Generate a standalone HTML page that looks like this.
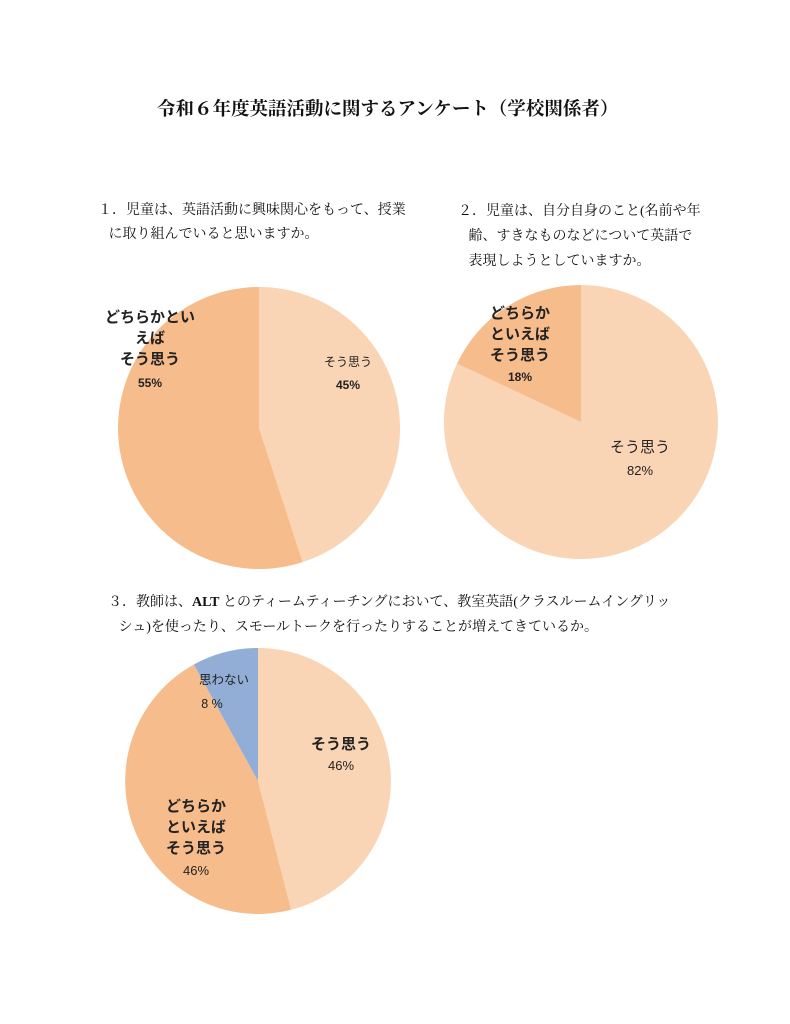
<!DOCTYPE html>
<html><head><meta charset="utf-8"><style>
html,body{margin:0;padding:0;background:#fff;}
body{width:790px;height:1024px;position:relative;overflow:hidden;}
.t{position:absolute;font-family:"Liberation Serif","Noto Serif CJK JP",serif;color:#111;white-space:nowrap;}
svg{position:absolute;left:0;top:0;}
svg text{font-family:"Liberation Sans","Noto Sans CJK JP",sans-serif;fill:#222;text-anchor:middle;}
</style></head><body>
<div class="t" style="left:157px;top:95px;font-size:18.5px;font-weight:bold;">令和６年度英語活動に関するアンケート（学校関係者）</div>
<div class="t" style="left:98px;top:199px;font-size:14px;line-height:24px;">１．児童は、英語活動に興味関心をもって、授業<br>&nbsp;&nbsp;&nbsp;に取り組んでいると思いますか。</div>
<div class="t" style="left:458px;top:199px;font-size:14px;line-height:25px;">２．児童は、自分自身のこと(名前や年<br>&nbsp;&nbsp;&nbsp;齢、すきなものなどについて英語で<br>&nbsp;&nbsp;&nbsp;表現しようとしていますか。</div>
<div class="t" style="left:108px;top:590px;font-size:14px;line-height:25px;">３．教師は、<b>ALT</b> とのティームティーチングにおいて、教室英語(クラスルームイングリッ<br>&nbsp;&nbsp;&nbsp;シュ)を使ったり、スモールトークを行ったりすることが増えてきているか。</div>
<svg width="790" height="1024">
<path d="M259,428 L259,287 A141,141 0 0 1 302.6,562.1 Z" fill="#FAD5B5"/>
<path d="M259,428 L302.6,562.1 A141,141 0 1 1 259,287 Z" fill="#F7BC8C"/>
<text x="348" y="366" font-size="12">そう思う</text>
<text x="348" y="389" font-size="12" font-weight="bold">45%</text>
<text x="150" y="322" font-size="15" font-weight="bold">どちらかとい</text>
<text x="150" y="343" font-size="15" font-weight="bold">えば</text>
<text x="150" y="364" font-size="15" font-weight="bold">そう思う</text>
<text x="150" y="387" font-size="12" font-weight="bold">55%</text>
<path d="M581,422 L581,285 A137,137 0 1 1 457,363.6 Z" fill="#FAD5B5"/>
<path d="M581,422 L457,363.6 A137,137 0 0 1 581,285 Z" fill="#F7BC8C"/>
<text x="520" y="318" font-size="15" font-weight="bold">どちらか</text>
<text x="520" y="339" font-size="15" font-weight="bold">といえば</text>
<text x="520" y="360" font-size="15" font-weight="bold">そう思う</text>
<text x="520" y="381" font-size="12" font-weight="bold">18%</text>
<text x="640" y="452" font-size="15">そう思う</text>
<text x="640" y="475" font-size="13">82%</text>
<path d="M258,781 L258,648 A133,133 0 0 1 291.1,909.8 Z" fill="#FAD5B5"/>
<path d="M258,781 L291.1,909.8 A133,133 0 0 1 193.9,664.5 Z" fill="#F7BC8C"/>
<path d="M258,781 L193.9,664.5 A133,133 0 0 1 258,648 Z" fill="#93AED6"/>
<text x="224" y="684" font-size="12.5">思わない</text>
<text x="212" y="708" font-size="12.5">8 %</text>
<text x="341" y="749" font-size="15" font-weight="bold">そう思う</text>
<text x="341" y="770" font-size="13">46%</text>
<text x="196" y="811" font-size="15" font-weight="bold">どちらか</text>
<text x="196" y="832" font-size="15" font-weight="bold">といえば</text>
<text x="196" y="853" font-size="15" font-weight="bold">そう思う</text>
<text x="196" y="875" font-size="13">46%</text>
</svg>
</body></html>
